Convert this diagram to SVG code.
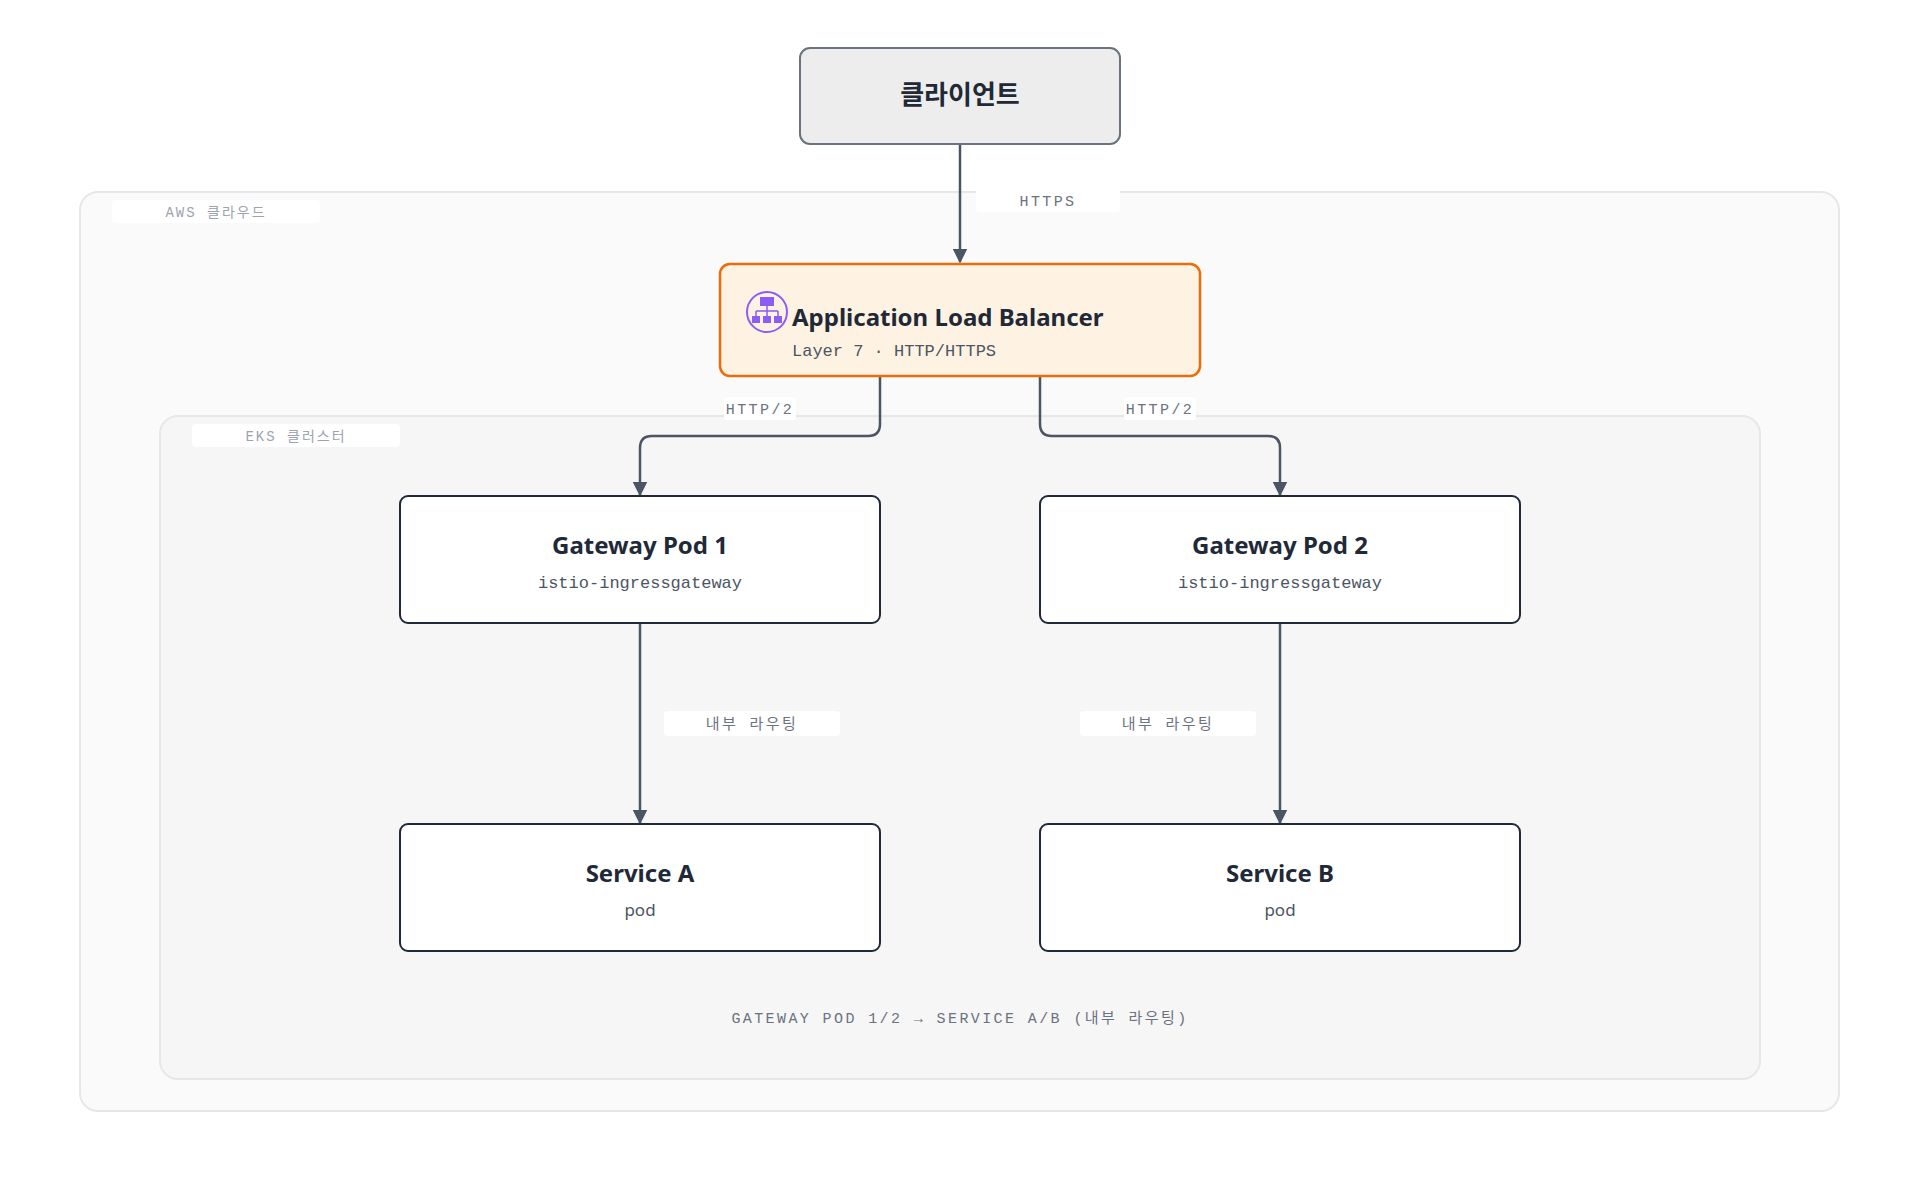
<svg xmlns="http://www.w3.org/2000/svg" width="1920" height="1200" viewBox="0 0 1920 1200">
<defs>
<style>
.t{font-family:"Noto Sans","Noto Sans CJK KR",sans-serif;font-weight:700;fill:#1f2937;text-anchor:middle}
.m{font-family:"Liberation Mono","Noto Sans CJK KR",monospace;fill:#4b5563;text-anchor:middle}
.lbl{font-family:"Liberation Mono","Noto Sans CJK KR",monospace;fill:#6b7280;font-size:15px;letter-spacing:2.4px;text-anchor:middle}
.grp{font-family:"Liberation Mono","Noto Sans CJK KR",monospace;fill:#9ca3af;font-size:14px;letter-spacing:2px;text-anchor:middle}
.node{fill:#fff;stroke:#1f2937;stroke-width:2}
.e{fill:none;stroke:#4b5563;stroke-width:2.5}
</style>
<marker id="a" viewBox="0 0 10 10" refX="9" refY="5" markerWidth="6" markerHeight="6" orient="auto"><path d="M0,0L10,5L0,10z" fill="#4b5563"/></marker>
</defs>
<rect width="1920" height="1200" fill="#fff"/>
<g id="aws"><rect x="80" y="192" width="1759" height="919" rx="18" fill="#fafafa" stroke="#e5e7eb" stroke-width="2"/>
<rect x="112" y="200" width="208" height="23" rx="4" fill="#fff"/><text class="grp" x="216" y="217">AWS 클라우드</text></g>
<g id="eks"><rect x="160" y="416" width="1600" height="663" rx="18" fill="#f6f6f6" stroke="#e5e7eb" stroke-width="2"/>
<rect x="192" y="424" width="208" height="23" rx="4" fill="#fff"/><text class="grp" x="296" y="441">EKS 클러스터</text></g>
<g id="edges">
<path class="e" d="M960,144V262" marker-end="url(#a)"/>
<path class="e" d="M880,376V424Q880,436 868,436H652Q640,436 640,448V495" marker-end="url(#a)"/>
<path class="e" d="M1040,376V424Q1040,436 1052,436H1268Q1280,436 1280,448V495" marker-end="url(#a)"/>
<path class="e" d="M640,623V823" marker-end="url(#a)"/>
<path class="e" d="M1280,623V823" marker-end="url(#a)"/>
<rect x="976" y="189" width="144" height="23" rx="4" fill="#fff"/><text class="lbl" x="1048" y="206">HTTPS</text>
<rect x="724" y="397" width="72" height="23" rx="4" fill="#fff"/><text class="lbl" x="760" y="414">HTTP/2</text>
<rect x="1124" y="397" width="72" height="23" rx="4" fill="#fff"/><text class="lbl" x="1160" y="414">HTTP/2</text>
<rect x="664" y="711" width="176" height="25" rx="4" fill="#fff"/><text class="lbl" x="752" y="729">내부 라우팅</text>
<rect x="1080" y="711" width="176" height="25" rx="4" fill="#fff"/><text class="lbl" x="1168" y="729">내부 라우팅</text>
</g>
<g id="client"><rect x="800" y="48" width="320" height="96" rx="10" fill="#ededed" stroke="#6b7280" stroke-width="2"/><text class="t" x="960" y="104" font-size="26">클라이언트</text></g>
<g id="alb"><rect x="720" y="264" width="480" height="112" rx="10" fill="#fef3e2" stroke="#ea6c0c" stroke-width="2.5"/>
<circle cx="767" cy="312" r="20" fill="none" stroke="#8b5cf6" stroke-width="2"/>
<rect x="760" y="297" width="14" height="9" fill="#8b5cf6"/><path d="M767,306V311M756,311H778M756,311V316M767,311V316M778,311V316" stroke="#8b5cf6" stroke-width="1.5" fill="none"/>
<rect x="752" y="316" width="8" height="7" fill="#8b5cf6"/><rect x="763" y="316" width="8" height="7" fill="#8b5cf6"/><rect x="774" y="316" width="8" height="7" fill="#8b5cf6"/>
<text class="t" x="792" y="326" font-size="24" style="text-anchor:start">Application Load Balancer</text>
<text class="m" x="792" y="356" font-size="17" style="text-anchor:start">Layer 7 · HTTP/HTTPS</text></g>
<g id="gw1"><rect class="node" x="400" y="496" width="480" height="127" rx="8"/><text class="t" x="640" y="554" font-size="24">Gateway Pod 1</text><text class="m" x="640" y="588" font-size="17">istio-ingressgateway</text></g>
<g id="gw2"><rect class="node" x="1040" y="496" width="480" height="127" rx="8"/><text class="t" x="1280" y="554" font-size="24">Gateway Pod 2</text><text class="m" x="1280" y="588" font-size="17">istio-ingressgateway</text></g>
<g id="sa"><rect class="node" x="400" y="824" width="480" height="127" rx="8"/><text class="t" x="640" y="882" font-size="24">Service A</text><text class="m" x="640" y="916" font-size="17" style="font-family:'Noto Sans',sans-serif">pod</text></g>
<g id="sb"><rect class="node" x="1040" y="824" width="480" height="127" rx="8"/><text class="t" x="1280" y="882" font-size="24">Service B</text><text class="m" x="1280" y="916" font-size="17" style="font-family:'Noto Sans',sans-serif">pod</text></g>
<text class="lbl" x="960" y="1023">GATEWAY POD 1/2 → SERVICE A/B (내부 라우팅)</text>
</svg>
